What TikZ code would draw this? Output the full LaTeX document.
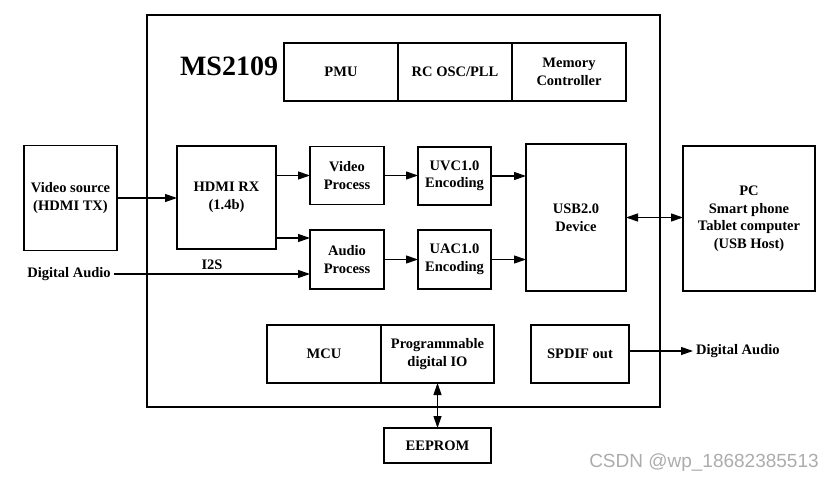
\documentclass[tikz,border=0pt]{standalone}
\usepackage{fontspec}
\setmainfont{Liberation Serif}
\newfontfamily\marcafont{Liberation Sans}
\usetikzlibrary{positioning,arrows.meta}
\tikzset{caja/.style={draw,line width=1.6pt,outer sep=0pt,inner sep=1pt,align=center,font=\bfseries\fontsize{14.5}{17.5}\selectfont}}
\tikzset{etiqueta/.style={inner sep=3pt,font=\bfseries\fontsize{14.5}{17.5}\selectfont}}
\tikzset{flecha/.style={line width=1.2pt,-{Triangle[length=12pt,width=8pt]}}}
\tikzset{dobleflecha/.style={line width=1.2pt,{Triangle[length=12pt,width=8pt]}-{Triangle[length=12pt,width=8pt]}}}

\begin{document}
\begin{tikzpicture}[x=1pt,y=-1pt]
            \useasboundingbox (0,0) rectangle (838,484);
            \node[caja, minimum width=513pt, minimum height=392pt] (chip) at (403.5,211) {};
            \node[inner sep=0pt, font=\bfseries\fontsize{28}{30}\selectfont] (nombre) at (229,66) {MS2109};

            \node[caja, minimum width=114pt, minimum height=58pt] (pmu) at (341,72) {PMU};
            \node[caja, minimum width=114pt, minimum height=58pt, right=0pt of pmu] (osc) {RC OSC/PLL};
            \node[caja, minimum width=114pt, minimum height=58pt, right=0pt of osc] (mem) {Memory\\Controller};

            \node[caja, minimum width=93pt,  minimum height=105pt] (fuente) at (70.5,198) {Video source\\(HDMI TX)};
            \node[caja, minimum width=99pt,  minimum height=103pt] (hdmi) at (226.5,197.5) {HDMI RX\\(1.4b)};
            \node[caja, minimum width=74pt,  minimum height=58pt]  (vproc) at (347,175.5) {Video\\Process};
            \node[caja, minimum width=74pt,  minimum height=59pt]  (aproc) at (347,259.5) {Audio\\Process};
            \node[caja, minimum width=73pt,  minimum height=58pt]  (uvc) at (454.5,176) {UVC1.0\\Encoding};
            \node[caja, minimum width=73pt,  minimum height=59pt]  (uac) at (454.5,259.5) {UAC1.0\\Encoding};
            \node[caja, minimum width=100pt, minimum height=147pt] (usb) at (576,217.5) {USB2.0\\Device};
            \node[caja, minimum width=132pt, minimum height=145pt] (host) at (749,218.5) {PC\\Smart phone\\Tablet computer\\(USB Host)};

            \node[caja, minimum width=114pt, minimum height=58pt] (mcu) at (324,354) {MCU};
            \node[caja, minimum width=113pt, minimum height=58pt, right=0pt of mcu] (gpio) {Programmable\\digital IO};
            \node[caja, minimum width=98pt,  minimum height=58pt] (spdif) at (580,354) {SPDIF out};
            \node[caja, minimum width=107pt, minimum height=35pt] (eeprom) at (437.5,445.5) {EEPROM};

            \node[etiqueta] (audioin) at (69,274) {Digital Audio};
            \node[etiqueta, anchor=west] (audioout) at (693,351) {Digital Audio};
            \node[etiqueta] (i2s) at (212,265) {I2S};
            \node[text=gray!65, inner sep=0pt, font=\marcafont\fontsize{19}{21}\selectfont] (marca) at (704,463) {CSDN @wp\_18682385513};

            \coordinate (entradaaudio) at ([yshift=-8pt]aproc.north west);

            \draw[flecha] (fuente.east) -- (fuente.east -| hdmi.west);
            \draw[flecha] (hdmi.east |- vproc.west) -- (vproc.west);
            \draw[flecha] (hdmi.east |- entradaaudio) -- (entradaaudio);
            \draw[flecha] (audioin.east) -- (audioin.east -| aproc.west);
            \draw[flecha] (vproc.east) -- (vproc.east -| uvc.west);
            \draw[flecha] (aproc.east) -- (uac.west);
            \draw[flecha] (uvc.east) -- (uvc.east -| usb.west);
            \draw[flecha] (uac.east) -- (uac.east -| usb.west);
            \draw[dobleflecha] (usb.east) -- (usb.east -| host.west);
            \draw[dobleflecha] (gpio.south) -- (eeprom.north);
            \draw[flecha] (spdif.east |- audioout.west) -- (audioout.west);
        \end{tikzpicture}
\end{document}
